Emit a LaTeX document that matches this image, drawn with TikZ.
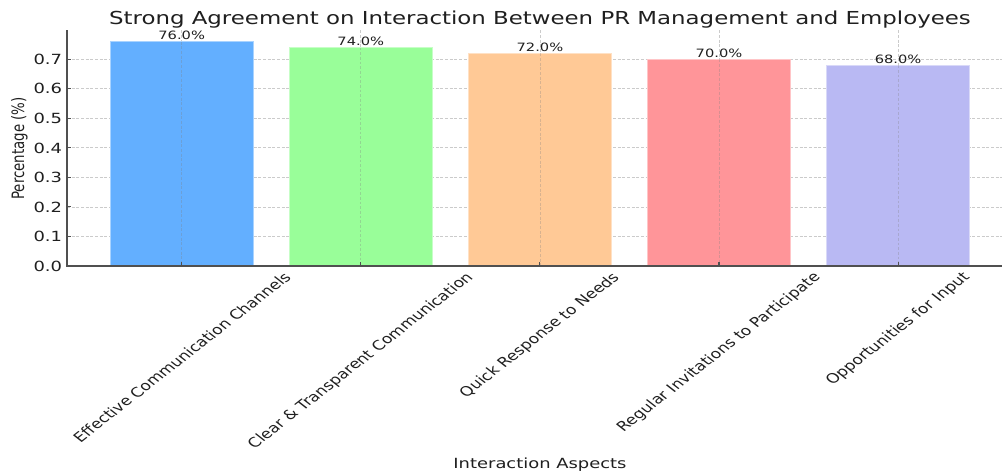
\documentclass[tikz,border=0pt]{standalone}
\usepackage{fontspec}
\setmainfont{DejaVu Sans}
\usepackage{graphicx}
\definecolor{txtc}{HTML}{1F1F1F}
\definecolor{spinec}{HTML}{505050}
\definecolor{gridc}{HTML}{CBCBCB}
\definecolor{cblue}{HTML}{63AFFF}
\definecolor{cgreen}{HTML}{99FE99}
\definecolor{corange}{HTML}{FFC996}
\definecolor{cred}{HTML}{FF9599}
\definecolor{cpurple}{HTML}{B9B9F3}
\newcommand{\hs}[1]{\scalebox{1.28}[1]{#1}}
\newcommand{\rs}[1]{\scalebox{1.28}[1]{\rotatebox{45}{#1}}}
\begin{document}
\begin{tikzpicture}[x=0.75pt,y=-0.75pt,
  lbl/.style={text=txtc, inner sep=0pt, outer sep=0pt},
  titlefont/.style={font=\fontsize{13.4}{16}\selectfont},
  ytickfont/.style={font=\fontsize{10.5}{12}\selectfont},
  xtickfont/.style={font=\fontsize{10}{12}\selectfont},
  axlabelfont/.style={font=\fontsize{10.5}{12}\selectfont},
  valfont/.style={font=\fontsize{8.6}{10}\selectfont},
  gridline/.style={gridc, line width=0.6pt, dash pattern=on 2.2pt off 1.3pt},
  spine/.style={spinec, line width=1.2pt},
  tickmark/.style={spinec, line width=0.8pt},
  barfill/.style={fill=#1, draw=white!45!#1, line width=0.6pt}]
\useasboundingbox (0,0) rectangle (1002,475);
% horizontal grid
\foreach \k in {1,...,7}
  \draw[gridline] (67,{266-29.53*\k}) -- (1002,{266-29.53*\k});
% vertical grid
\foreach \c in {181.7,360.8,539.9,719.0,898.1}
  \draw[gridline] (\c,30.4) -- (\c,266);
% bars
\path[barfill=cblue]   (110.1,266) rectangle (253.3,41.6);
\path[barfill=cgreen]  (289.2,266) rectangle (432.4,47.5);
\path[barfill=corange] (468.3,266) rectangle (611.5,53.4);
\path[barfill=cred]    (647.4,266) rectangle (790.6,59.3);
\path[barfill=cpurple] (826.5,266) rectangle (969.7,65.2);
% grid showing through bars
\draw[gridline, gray, opacity=0.3] (181.7,41.6) -- (181.7,266);
\draw[gridline, gray, opacity=0.3] (360.8,47.5) -- (360.8,266);
\draw[gridline, gray, opacity=0.3] (539.9,53.4) -- (539.9,266);
\draw[gridline, gray, opacity=0.3] (719.0,59.3) -- (719.0,266);
\draw[gridline, gray, opacity=0.3] (898.1,65.2) -- (898.1,266);
% ticks
\foreach \k in {0,...,7}
  \draw[tickmark] (67,{266-29.53*\k}) -- (71,{266-29.53*\k});
\foreach \c in {181.7,360.8,539.9,719.0,898.1}
  \draw[tickmark] (\c,266) -- (\c,262);
% spines
\draw[spine] (67,30.4) -- (67,266) -- (1002,266);
% title
\node[lbl, titlefont, anchor=base] (title) at (540,24) {\hs{Strong Agreement on Interaction Between PR Management and Employees}};
% y tick labels
\node[lbl, ytickfont, anchor=east] (y0) at (62,266.0) {\hs{0.0}};
\node[lbl, ytickfont, anchor=east] (y1) at (62,236.5) {\hs{0.1}};
\node[lbl, ytickfont, anchor=east] (y2) at (62,206.9) {\hs{0.2}};
\node[lbl, ytickfont, anchor=east] (y3) at (62,177.4) {\hs{0.3}};
\node[lbl, ytickfont, anchor=east] (y4) at (62,147.9) {\hs{0.4}};
\node[lbl, ytickfont, anchor=east] (y5) at (62,118.4) {\hs{0.5}};
\node[lbl, ytickfont, anchor=east] (y6) at (62,88.8) {\hs{0.6}};
\node[lbl, ytickfont, anchor=east] (y7) at (62,59.3) {\hs{0.7}};
% value labels
\node[lbl, valfont, anchor=base] (v1) at (181.7,39.6) {\hs{76.0\%}};
\node[lbl, valfont, anchor=base] (v2) at (360.8,45.5) {\hs{74.0\%}};
\node[lbl, valfont, anchor=base] (v3) at (539.9,51.4) {\hs{72.0\%}};
\node[lbl, valfont, anchor=base] (v4) at (719.0,57.3) {\hs{70.0\%}};
\node[lbl, valfont, anchor=base] (v5) at (898.1,63.2) {\hs{68.0\%}};
% x tick labels
\node[lbl, xtickfont, anchor=north] (x1) at (181.7,271) {\rs{Effective Communication Channels}};
\node[lbl, xtickfont, anchor=north] (x2) at (360.8,271) {\rs{Clear \& Transparent Communication}};
\node[lbl, xtickfont, anchor=north] (x3) at (539.9,271) {\rs{Quick Response to Needs}};
\node[lbl, xtickfont, anchor=north] (x4) at (719.0,271) {\rs{Regular Invitations to Participate}};
\node[lbl, xtickfont, anchor=north] (x5) at (898.1,271) {\rs{Opportunities for Input}};
% axis labels
\node[lbl, axlabelfont, anchor=base] (xlabel) at (540,468) {\hs{Interaction Aspects}};
\node[lbl, font=\fontsize{10}{12}\selectfont, anchor=center] (ylabel) at (19.5,148.5) {\hs{\rotatebox{90}{Percentage (\%)}}};
\end{tikzpicture}
\end{document}
